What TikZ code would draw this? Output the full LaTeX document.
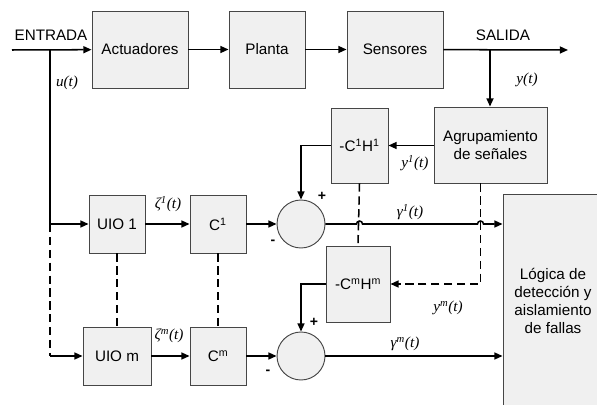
\documentclass[tikz,border=0pt]{standalone}
\usepackage{fontspec}
\setmainfont{Liberation Sans}
\newfontfamily\tms{Liberation Serif}
\usetikzlibrary{arrows.meta,positioning,calc}
\definecolor{blkfill}{RGB}{240,240,240}
\definecolor{blkline}{RGB}{70,70,70}
\tikzset{
  blk/.style={rectangle,draw=blkline,fill=blkfill,line width=0.8pt,inner sep=0pt,font=\fontsize{13}{15.5}\selectfont,align=center},
  sumc/.style={circle,draw=blkline,fill=blkfill,line width=0.8pt,minimum size=1.44cm,inner sep=0pt},
  txt/.style={font=\fontsize{13}{15}\selectfont,inner sep=0pt},
  sig/.style={font=\fontsize{13}{15}\selectfont\tms\itshape,inner sep=0pt},
  sgn/.style={font=\fontsize{12}{14}\selectfont\bfseries,inner sep=0pt},
  ln/.style={draw=black,line width=1.3pt},
  ar/.style={ln,-{Triangle[length=7pt,width=6pt]}},
  dl/.style={ln,dash pattern=on 7pt off 4pt},
  da/.style={dl,-{Triangle[length=7pt,width=6pt]}}
}
\begin{document}
\begin{tikzpicture}[x=0.03cm,y=-0.03cm]
\clip (0,0) rectangle (597,405);
% top chain
\node[blk,minimum width=2.88cm,minimum height=2.31cm](act) at (140,49.5){Actuadores};
\node[blk,minimum width=2.28cm,minimum height=2.31cm](pla) at (267,49.5){Planta};
\node[blk,minimum width=2.88cm,minimum height=2.31cm](sen) at (395,49.5){Sensores};
\node[blk,minimum width=3.39cm,minimum height=2.28cm](agr) at (490.5,145){Agrupamiento\\de señales};
\node[txt](ent) at (51,35){ENTRADA};
\node[txt](sal) at (503,35){SALIDA};
\coordinate (in) at (12,50);
\coordinate (out) at (568,50);
\coordinate (ub) at (50,50);
\coordinate (yb) at (490,50);
\draw[ar] (in) -- (act);
\draw[ar] (act) -- (pla);
\draw[ar] (pla) -- (sen);
\draw[ar] (sen) -- (out);
\draw[ar] (yb) -- (yb |- agr.north);
\node[sig](ut) at (67,83){u(t)};
\node[sig](yt) at (527,80){y(t)};
% observer bank
\node[blk,minimum width=1.68cm,minimum height=1.74cm](uio1) at (117,224){UIO 1};
\node[blk,minimum width=1.68cm,minimum height=1.74cm](c1) at (218,224){C\textsuperscript{1}};
\node[blk,minimum width=2.04cm,minimum height=1.74cm](uiom) at (117,356){UIO m};
\node[blk,minimum width=1.68cm,minimum height=1.74cm](cm) at (218,356){C\textsuperscript{m}};
\node[sumc](s1) at (301,224){};
\node[sumc](sm) at (301,356){};
\node[blk,minimum width=1.71cm,minimum height=2.25cm](ch1) at (359.5,145.5){-C\textsuperscript{1}H\textsuperscript{1}};
\node[blk,minimum width=1.92cm,minimum height=2.28cm](chm) at (358,284){-C\textsuperscript{m}H\textsuperscript{m}};
\node[blk,minimum width=3.0cm,minimum height=6.42cm](lgc) at (553,301){Lógica de\\detección y\\aislamiento\\de fallas};
% connectors
\draw[ar] (ub) -- (ub |- uio1) -- (uio1);
\draw[dl] (ub |- uio1) -- (ub |- uiom);
\draw[ar] (ub |- uiom) -- (uiom);
\draw[ar] (uio1) -- (c1);
\draw[ar] (uiom) -- (cm);
\draw[ar] (c1) -- (s1);
\draw[ar] (cm) -- (sm);
\draw[dl] (uio1.south) -- (uiom.north);
\draw[dl] (c1.south) -- (cm.north);
\draw[ar] (agr.west |- ch1) -- (ch1.east);
\draw[ar] (ch1.west) -| (s1.north);
\draw[ar] (chm.west) -| (sm.north);
\draw[dl] (ch1.south) -- (chm.north);
\draw[da] ($(agr.south)+(-10,0)$) |- (chm.east);
\draw[ar] (s1.east) -- ($(ch1.south |- s1.east)+(-3,0)$) arc[start angle=180,end angle=0,radius=0.09cm]
  -- ($(agr.south |- s1.east)+(-13,0)$) arc[start angle=180,end angle=0,radius=0.09cm] -- (lgc.west |- s1.east);
\draw[ar] (sm.east) -- (lgc.west |- sm.east);
% labels
\node[sig](z1) at (168,204){ζ\textsuperscript{1}(t)};
\node[sig](zm) at (169,336){ζ\textsuperscript{m}(t)};
\node[sig](y1) at (415,163){y\textsuperscript{1}(t)};
\node[sig](ym) at (448,308){y\textsuperscript{m}(t)};
\node[sig](g1) at (410,212){γ\textsuperscript{1}(t)};
\node[sig](gm) at (405,344){γ\textsuperscript{m}(t)};
\node[sgn](p1) at (322,196){+};
\node[sgn](n1) at (273,242){-};
\node[sgn](pm) at (314,322){+};
\node[sgn](nm) at (268,372){-};
\end{tikzpicture}
\end{document}
